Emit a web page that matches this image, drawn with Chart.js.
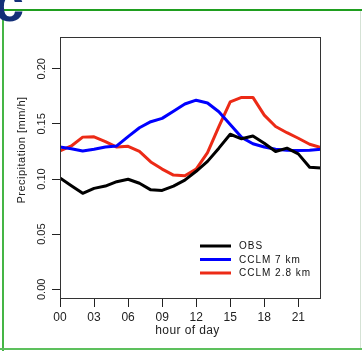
<!DOCTYPE html>
<html>
<head>
<meta charset="utf-8">
<script src="https://cdn.jsdelivr.net/npm/chart.js@4.4.1/dist/chart.umd.min.js"></script>
<style>
  html, body { margin: 0; padding: 0; background: #ffffff; }
  #wrap { width: 362px; height: 351px; position: relative; }
</style>
</head>
<body>
<div id="wrap"><canvas id="c" width="362" height="351"></canvas></div>
<script>
// Mean diurnal cycle of precipitation, hourly values (mm/h)
const hours = [0, 1, 2, 3, 4, 5, 6, 7, 8, 9, 10, 11, 12, 13, 14, 15, 16, 17, 18, 19, 20, 21, 22, 23];
const obs = [0.101, 0.094, 0.087, 0.0915, 0.0936, 0.0976, 0.0998, 0.0962, 0.0902, 0.0897, 0.0936, 0.099,
             0.107, 0.116, 0.128, 0.1406, 0.1365, 0.139, 0.1325, 0.125, 0.128, 0.1228, 0.1106, 0.110];
const cclm7 = [0.129, 0.1275, 0.1255, 0.127, 0.129, 0.130, 0.1385, 0.1465, 0.152, 0.155, 0.1615, 0.168,
               0.1715, 0.169, 0.161, 0.1495, 0.1378, 0.132, 0.129, 0.127, 0.126, 0.1258, 0.126, 0.127];
const cclm28 = [0.1255, 0.130, 0.138, 0.1383, 0.134, 0.129, 0.1297, 0.125, 0.1155, 0.109, 0.1036, 0.103,
                0.109, 0.124, 0.1476, 0.170, 0.174, 0.174, 0.158, 0.1476, 0.142, 0.137, 0.1315, 0.1285];
const seriesNames = ["OBS", "CCLM 7 km", "CCLM 2.8 km"];
const xTicks = [0, 3, 6, 9, 12, 15, 18, 21];
const yTicks = [0, 0.05, 0.10, 0.15, 0.20];
const yTickLabels = ["0.00", "0.05", "0.10", "0.15", "0.20"];
const xTitle = "hour of day";
const yTitle = "Precipitation [mm/h]";
const panelLetter = "c";

const FONT = "'Liberation Sans', Arial, Helvetica, sans-serif";

// y range with the usual 4% extension around 0..0.22
const yLo = 0 - 0.22 * 0.04;
const yHi = 0.22 + 0.22 * 0.04;

const framePlugin = {
  id: 'frame',
  beforeDraw(chart) {
    const ctx = chart.ctx;
    ctx.save();
    ctx.fillStyle = '#ffffff';
    ctx.fillRect(0, 0, chart.width, chart.height);
    // green panel frame
    ctx.fillStyle = '#1f9e1f';
    ctx.fillRect(0, 9, chart.width, 2);
    ctx.fillStyle = '#45b545';
    ctx.fillRect(2, 9, 2, chart.height - 9);
    ctx.fillStyle = '#5dc05d';
    ctx.fillRect(0, 348, chart.width, 2);
    ctx.fillStyle = '#d5e2d5';
    ctx.fillRect(360, 11, 1, 337);
    ctx.restore();
  },
  afterDraw(chart) {
    const ctx = chart.ctx;
    const a = chart.chartArea;
    ctx.save();
    // plot box
    ctx.strokeStyle = '#333333';
    ctx.lineWidth = 1;
    ctx.strokeRect(Math.round(a.left) + 0.5, Math.round(a.top) + 0.5,
                   Math.round(a.right - a.left) - 1, Math.round(a.bottom - a.top) - 1);

    // rotated y tick labels
    const ys = chart.scales.y;
    ctx.fillStyle = '#222222';
    ctx.font = '11px ' + FONT;
    ctx.textAlign = 'center';
    ctx.textBaseline = 'middle';
    yTicks.forEach((v, i) => {
      const py = ys.getPixelForValue(v);
      ctx.save();
      ctx.translate(a.left - 18, py);
      ctx.rotate(-Math.PI / 2);
      ctx.fillText(yTickLabels[i], 0, 0);
      ctx.restore();
    });

    // y title
    ctx.save();
    ctx.font = '11px ' + FONT;
    ctx.letterSpacing = '0.5px';
    ctx.translate(22, 150);
    ctx.rotate(-Math.PI / 2);
    ctx.fillText(yTitle, 0, 0);
    ctx.restore();

    // x title
    ctx.save();
    ctx.font = '12px ' + FONT;
    ctx.letterSpacing = '0.4px';
    ctx.textAlign = 'center';
    ctx.fillText(xTitle, (a.left + a.right) / 2 - 3, 331);
    ctx.restore();

    // legend
    const lx0 = a.left + 140, lx1 = a.left + 171, tx = a.left + 179;
    const rows = [246, 259.5, 273];
    ctx.font = '10px ' + FONT;
    ctx.letterSpacing = '1px';
    ctx.textAlign = 'left';
    chart.data.datasets.forEach((ds, i) => {
      ctx.strokeStyle = ds.borderColor;
      ctx.lineWidth = 3;
      ctx.beginPath();
      ctx.moveTo(lx0, rows[i]);
      ctx.lineTo(lx1, rows[i]);
      ctx.stroke();
      ctx.fillStyle = '#111111';
      ctx.fillText(ds.label, tx, rows[i] + 0.5);
    });
    ctx.letterSpacing = '0px';

    // panel letter
    ctx.fillStyle = '#132f78';
    ctx.font = 'bold 54px ' + FONT;
    ctx.textAlign = 'left';
    ctx.textBaseline = 'alphabetic';
    ctx.fillText(panelLetter, -6, 21);
    ctx.restore();
  }
};

new Chart(document.getElementById('c'), {
  type: 'line',
  data: {
    labels: hours,
    datasets: [
      { label: seriesNames[0], data: hours.map((h, i) => ({ x: h, y: obs[i] })), borderColor: '#000000' },
      { label: seriesNames[1], data: hours.map((h, i) => ({ x: h, y: cclm7[i] })), borderColor: '#0000ff' },
      { label: seriesNames[2], data: hours.map((h, i) => ({ x: h, y: cclm28[i] })), borderColor: '#ec2a16' }
    ]
  },
  options: {
    responsive: false,
    animation: false,
    devicePixelRatio: 1,
    layout: { padding: { left: 0, top: 37, right: 41, bottom: 0 } },
    elements: {
      line: { borderWidth: 3, tension: 0, borderJoinStyle: 'round', borderCapStyle: 'butt', fill: false },
      point: { radius: 0, hoverRadius: 0 }
    },
    plugins: { legend: { display: false }, tooltip: { enabled: false } },
    scales: {
      x: {
        type: 'linear',
        min: 0, max: 23,
        afterBuildTicks: s => { s.ticks = xTicks.map(v => ({ value: v })); },
        afterFit: s => { s.height = 52; },
        border: { display: false },
        grid: { drawOnChartArea: false, drawTicks: true, tickLength: 8, color: '#222222', tickWidth: 1 },
        ticks: {
          color: '#222222',
          padding: 3,
          maxRotation: 0,
          autoSkip: false,
          font: { family: FONT, size: 12 },
          callback: v => String(v).padStart(2, '0')
        }
      },
      y: {
        type: 'linear',
        min: yLo, max: yHi,
        afterBuildTicks: s => { s.ticks = yTicks.map(v => ({ value: v })); },
        afterFit: s => { s.width = 60; },
        border: { display: false },
        grid: { drawOnChartArea: false, drawTicks: true, tickLength: 8, color: '#222222', tickWidth: 1 },
        ticks: { display: false }
      }
    }
  },
  plugins: [framePlugin]
});
</script>
</body>
</html>
